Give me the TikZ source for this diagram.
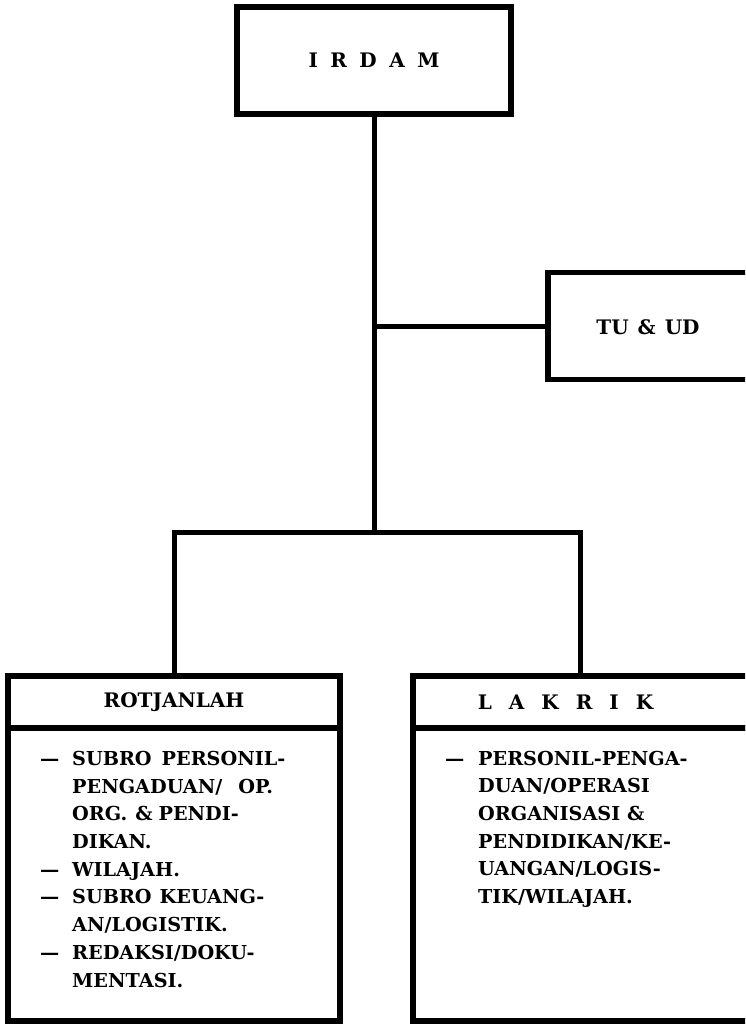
\documentclass[tikz,border=0pt]{standalone}
\usepackage{fontspec}
\setmainfont{DejaVu Serif}
\begin{document}
\begin{tikzpicture}[x=1pt,y=-1pt,
  unit/.style={draw, line width=5.5pt, inner sep=0pt, outer sep=0pt},
  link/.style={line width=5pt},
  head/.style={font=\fontsize{20}{24}\selectfont\bfseries},
  duty/.style={align=left, inner sep=0pt, anchor=base west,
    font=\fontsize{19.2}{27.7}\selectfont\bfseries}]
\useasboundingbox (0,0) rectangle (745,1024);
\clip (0,0) rectangle (745,1024);

% top command box
\node[unit, head, minimum width=274pt, minimum height=107pt] (irdam) at (374,60.5)
  {I\hspace{12.5pt}R\hspace{12.5pt}D\hspace{12.5pt}A\hspace{12.5pt}M};

% staff box on the right
\node[unit, minimum width=260pt, minimum height=107pt, anchor=west] (tuud) at (548,326) {};
\node[head] (tuudtext) at (648,327) {TU\hspace{9pt}\&\hspace{9pt}UD};

% lower units: header strip and body
\node[unit, head, minimum width=332pt, minimum height=52pt] (rot) at (174,702) {ROTJANLAH};
\node[unit, minimum width=332pt, minimum height=293pt, anchor=north] (rotbody) at (rot.south) {};
\node[unit, head, minimum width=400pt, minimum height=52pt, anchor=west] (lak) at (413,702)
  {\hspace{-95pt}L\hspace{17pt}A\hspace{17pt}K\hspace{17pt}R\hspace{17pt}I\hspace{17pt}K};
\node[unit, minimum width=400pt, minimum height=293pt, anchor=north] (lakbody) at (lak.south) {};

% duty lists (placed by the baseline of their last line)
\node[duty] (rotlist) at (40,987) {%
  \makebox[32pt][l]{—}SUBRO\hspace{10pt}PERSONIL-\\
  \hspace*{32pt}PENGADUAN/\hspace{16pt}OP.\\
  \hspace*{32pt}ORG.\hspace{8pt}\&\hspace{6pt}PENDI-\\
  \hspace*{32pt}DIKAN.\\
  \makebox[32pt][l]{—}WILAJAH.\\
  \makebox[32pt][l]{—}SUBRO\hspace{8pt}KEUANG-\\
  \hspace*{32pt}AN/LOGISTIK.\\
  \makebox[32pt][l]{—}REDAKSI/DOKU-\\
  \hspace*{32pt}MENTASI.};
\node[duty] (laklist) at (445,903.5) {%
  \makebox[33pt][l]{—}PERSONIL-PENGA-\\
  \hspace*{33pt}DUAN/OPERASI\\
  \hspace*{33pt}ORGANISASI \&\\
  \hspace*{33pt}PENDIDIKAN/KE-\\
  \hspace*{33pt}UANGAN/LOGIS-\\
  \hspace*{33pt}TIK/WILAJAH.};

% connectors
\coordinate (tap) at (374,326);
\coordinate (fork) at (374,532);
\coordinate (lakin) at (580,676);
\draw[link] (irdam.south) -- (fork);
\draw[link] (tap) -- (tuud.west);
\draw[link] (fork) -| (rot.north);
\draw[link] (fork) -| (lakin);
\end{tikzpicture}
\end{document}
